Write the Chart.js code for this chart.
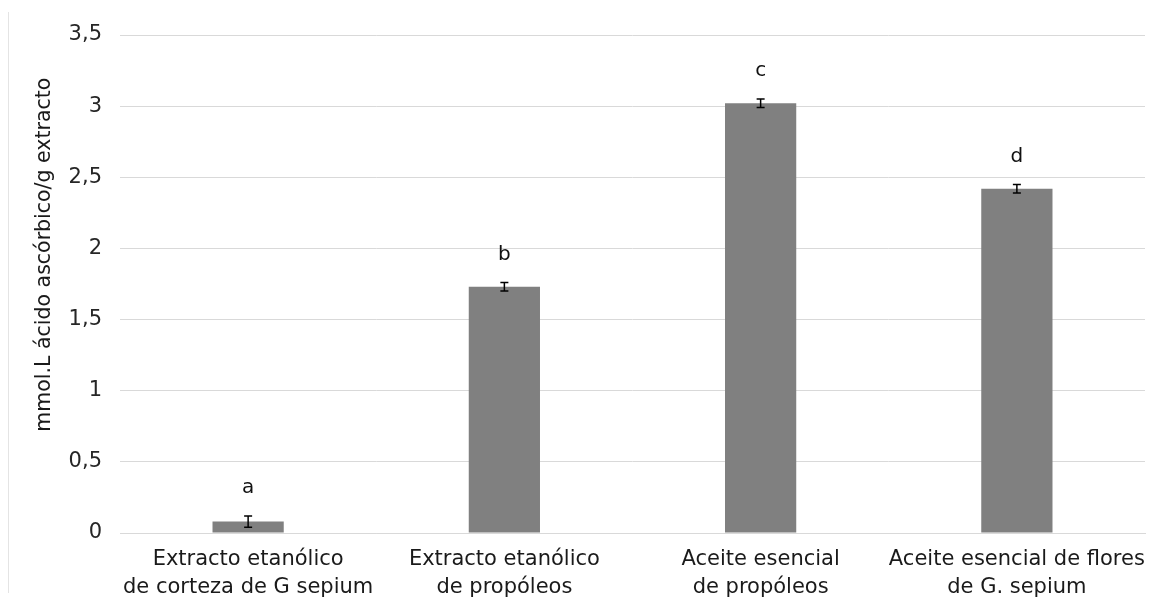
<!DOCTYPE html>
<html>
<head>
<meta charset="utf-8">
<script src="https://cdn.jsdelivr.net/npm/chart.js@4"></script>
<style>
  body { margin: 0; background: #fff; overflow: hidden; }
  #wrap { position: relative; width: 1155px; height: 601px; }
  #edge { position: absolute; left: 8px; top: 12px; bottom: 8px; border-left: 1px solid #e4e4e4; }
</style>
</head>
<body>
<div id="wrap">
  <div id="edge"></div>
  <canvas id="chart" width="1155" height="601"></canvas>
</div>
<script>
// data
const categories = [
    ['Extracto etanólico', 'de corteza de G sepium'],
    ['Extracto etanólico', 'de propóleos'],
    ['Aceite esencial', 'de propóleos'],
    ['Aceite esencial de flores', 'de G. sepium']
];
const values = [0.08, 1.73, 3.02, 2.42];
const errors = [0.04, 0.03, 0.03, 0.03];
const letters = ['a', 'b', 'c', 'd'];
const yTicksMax = 3.5;
const yTicksStep = 0.5;

const FONT = 'DejaVu Sans, Verdana, sans-serif';

const errorBars = {
    id: 'errorBars',
    afterDatasetsDraw(chart) {
        const ctx = chart.ctx;
        const y = chart.scales.y;
        const meta = chart.getDatasetMeta(0);
        ctx.save();
        meta.data.forEach((bar, i) => {
            const top = y.getPixelForValue(values[i] + errors[i]);
            const bot = y.getPixelForValue(values[i] - errors[i]);
            ctx.strokeStyle = '#000';
            ctx.lineWidth = 1.5;
            ctx.beginPath();
            ctx.moveTo(bar.x, top); ctx.lineTo(bar.x, bot);
            ctx.moveTo(bar.x - 4, top); ctx.lineTo(bar.x + 4, top);
            ctx.moveTo(bar.x - 4, bot); ctx.lineTo(bar.x + 4, bot);
            ctx.stroke();
            ctx.fillStyle = '#111';
            ctx.font = '20px ' + FONT;
            ctx.textAlign = 'center';
            ctx.textBaseline = 'middle';
            ctx.fillText(letters[i], bar.x, top - 28);
        });
        ctx.restore();
    }
};

// title sits a bit above the axis middle in the original (text runs bottom to top)
const yTitle = '\u00a0'.repeat(9) + 'mmol.L ácido ascórbico/g extracto';

new Chart(document.getElementById('chart'), {
    type: 'bar',
    data: {
        labels: categories,
        datasets: [{
            data: values,
            backgroundColor: '#808080',
            categoryPercentage: 1,
            barPercentage: 0.278
        }]
    },
    options: {
        responsive: false,
        animation: false,
        layout: { padding: { left: 0, top: 35, right: 10, bottom: 0 } },
        plugins: { legend: { display: false }, tooltip: { enabled: false } },
        scales: {
            x: {
                grid: { display: false, drawTicks: false },
                border: { display: true, color: '#d9d9d9', width: 1 },
                ticks: {
                    color: '#1a1a1a',
                    font: { family: FONT, size: 21, lineHeight: 1.333 },
                    padding: 13,
                    maxRotation: 0,
                    autoSkip: false
                },
                afterFit(s) { s.paddingRight = 0; s.paddingLeft = 0; s.height = 68; }
            },
            y: {
                min: 0,
                max: yTicksMax,
                grid: { color: '#d9d9d9', drawTicks: false },
                border: { display: false },
                ticks: {
                    stepSize: yTicksStep,
                    color: '#262626',
                    padding: 18,
                    font: { family: FONT, size: 21 },
                    callback: v => String(v).replace('.', ',')
                },
                title: {
                    display: true,
                    text: yTitle,
                    color: '#1a1a1a',
                    font: { family: FONT, size: 20.5 },
                    padding: { top: 32, bottom: 10 }
                },
                afterFit(s) { s.width = 120; }
            }
        }
    },
    plugins: [errorBars]
});
</script>
</body>
</html>
